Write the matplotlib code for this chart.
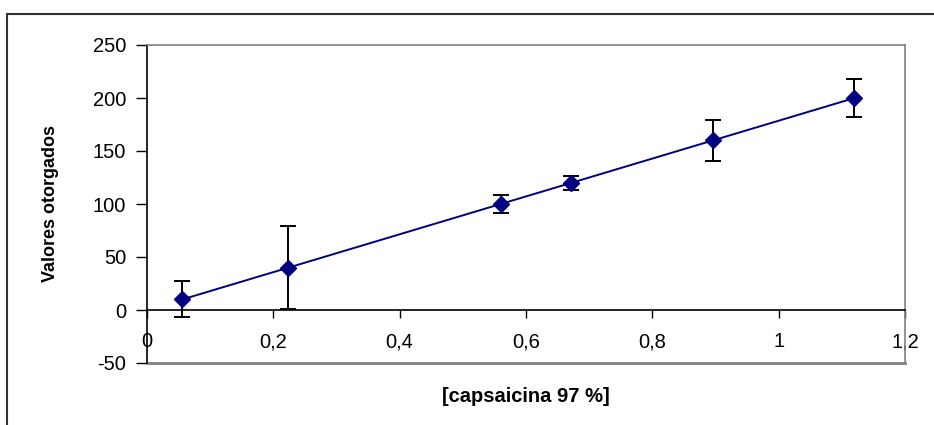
import matplotlib
matplotlib.use("Agg")
import matplotlib.pyplot as plt
from matplotlib.patches import Rectangle

concentracion = [0.056, 0.224, 0.56, 0.672, 0.896, 1.12]
valores = [10, 40, 100, 120, 160, 200]
error = [17, 39, 8.5, 6.5, 19, 17.5]
xticks = [0, 0.2, 0.4, 0.6, 0.8, 1.0, 1.2]
xticklabels = ["0", "0,2", "0,4", "0,6", "0,8", "1", "1,2"]
yticks = [-50, 0, 50, 100, 150, 200, 250]

plt.rcParams['font.family'] = ['Liberation Sans', 'DejaVu Sans']
plt.rcParams['axes.unicode_minus'] = False

fig = plt.figure(figsize=(9.34, 4.25), dpi=100)
fig.patch.set_facecolor('white')
fig.patches.append(Rectangle((7/934, -0.1), 1.2, 1.1 - 14/425,
                             transform=fig.transFigure, fill=False,
                             edgecolor='#333333', linewidth=1.5))
ax = fig.add_axes([147/934, 1-363/425, (905-147)/934, (363-45)/425])

ax.errorbar(concentracion, valores, yerr=error, fmt='none', ecolor='black',
            elinewidth=1.4, capsize=6, capthick=1.4, zorder=2)
ax.plot(concentracion, valores, color='#000080', linewidth=1.4,
        marker='D', markersize=8, markerfacecolor='#000080',
        markeredgecolor='#000080', zorder=3)

ax.set_xlim(0, 1.2)
ax.set_ylim(-50, 250)
ax.set_xticks(xticks)
ax.set_xticklabels(xticklabels)
ax.set_yticks(yticks)

ax.spines['bottom'].set_position(('data', 0))
ax.spines['bottom'].set_color('black')
ax.spines['left'].set_color('black')
ax.spines['top'].set_color('#808080')
ax.spines['right'].set_color('#808080')
for s in ax.spines.values():
    s.set_linewidth(1.2)
ax.axhline(-50, color='#808080', linewidth=2.0, clip_on=False)

ax.tick_params(axis='x', direction='out', length=6, width=1, pad=10,
               labelsize=14.5, colors='black')
ax.tick_params(axis='y', direction='out', length=8, width=1, pad=7,
               labelsize=14.5, colors='black')

ax.set_ylabel('Valores otorgados', fontsize=13, fontweight='bold')
ax.yaxis.set_label_coords(-0.116, 0.503)
fig.text(526/934, 1-397/425, '[capsaicina 97 %]', fontsize=14.5,
         fontweight='bold', ha='center', va='center')

fig.savefig('out.png', dpi=100)
